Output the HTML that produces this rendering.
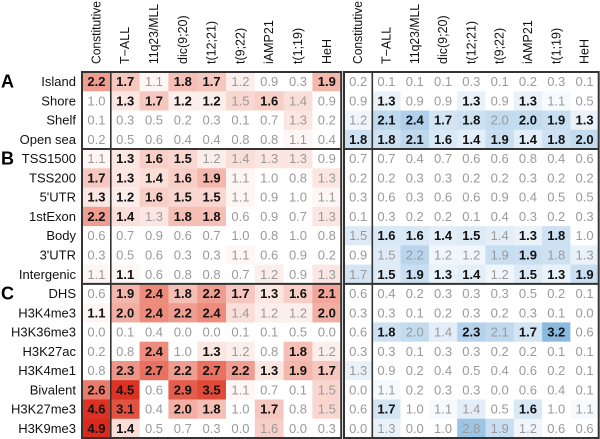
<!DOCTYPE html>
<html><head><meta charset="utf-8">
<style>
body{margin:0;background:#fff;}
svg{display:block;font-family:"Liberation Sans",sans-serif;}
</style></head>
<body>
<svg id="chart" width="600" height="439" viewBox="0 0 600 439" xmlns="http://www.w3.org/2000/svg"></svg>
<script>
const columns = ["Constitutive","T\u2212ALL","11q23/MLL","dic(9;20)","t(12;21)","t(9;22)","iAMP21","t(1;19)","HeH"];
const rows = ["Island","Shore","Shelf","Open sea","TSS1500","TSS200","5'UTR","1stExon","Body","3'UTR","Intergenic","DHS","H3K4me3","H3K36me3","H3K27ac","H3K4me1","Bivalent","H3K27me3","H3K9me3"];
const groupLabels = ["A","B","C"];
const groupStarts = [0,4,11];
const leftValues = [
[2.2,1.7,1.1,1.8,1.7,1.2,0.9,0.3,1.9],
[1.0,1.3,1.7,1.2,1.2,1.5,1.6,1.4,0.9],
[0.1,0.3,0.5,0.2,0.3,0.1,0.7,1.3,0.2],
[0.2,0.5,0.6,0.4,0.4,0.8,0.8,1.1,0.4],
[1.1,1.3,1.6,1.5,1.2,1.4,1.3,1.3,0.9],
[1.7,1.3,1.4,1.6,1.9,1.1,1.0,0.8,1.3],
[1.3,1.2,1.6,1.5,1.5,1.1,0.9,1.0,1.1],
[2.2,1.4,1.3,1.8,1.8,0.6,0.9,0.7,1.3],
[0.6,0.7,0.9,0.6,0.7,1.0,0.8,1.0,0.8],
[0.3,0.5,0.6,0.3,0.3,1.1,0.6,0.9,0.2],
[1.1,1.1,0.6,0.8,0.8,0.7,1.2,0.9,1.3],
[0.6,1.9,2.4,1.8,2.2,1.7,1.3,1.6,2.1],
[1.1,2.0,2.4,2.2,2.4,1.4,1.2,1.2,2.0],
[0.0,0.1,0.4,0.0,0.0,0.1,0.1,0.5,0.0],
[0.2,0.8,2.4,1.0,1.3,1.2,0.8,1.8,1.2],
[0.8,2.3,2.7,2.2,2.7,2.2,1.3,1.9,1.7],
[2.6,4.5,0.6,2.9,3.5,1.1,0.7,0.1,1.5],
[4.6,3.1,0.4,2.0,1.8,1.0,1.7,0.8,1.5],
[4.9,1.4,0.5,0.7,0.3,0.0,1.6,0.0,0.3]];
const leftBold = [
[1,1,0,1,1,0,0,0,1],[0,1,1,1,1,0,1,0,0],[0,0,0,0,0,0,0,0,0],[0,0,0,0,0,0,0,0,0],
[0,1,1,1,0,0,0,0,0],[1,1,1,1,1,0,0,0,0],[1,1,1,1,1,0,0,0,0],[1,1,0,1,1,0,0,0,0],
[0,0,0,0,0,0,0,0,0],[0,0,0,0,0,0,0,0,0],[0,1,0,0,0,0,0,0,0],
[0,1,1,1,1,1,1,1,1],[1,1,1,1,1,0,0,0,1],[0,0,0,0,0,0,0,0,0],[0,0,1,0,1,0,0,1,0],
[0,1,1,1,1,1,1,1,1],[1,1,0,1,1,0,0,0,0],[1,1,0,1,1,0,1,0,0],[1,1,0,0,0,0,0,0,0]];
const rightValues = [
[0.2,0.1,0.1,0.1,0.3,0.1,0.2,0.3,0.1],
[0.9,1.3,0.9,0.9,1.3,0.9,1.3,1.1,0.5],
[1.2,2.1,2.4,1.7,1.8,2.0,2.0,1.9,1.3],
[1.8,1.8,2.1,1.6,1.4,1.9,1.4,1.8,2.0],
[0.7,0.7,0.4,0.7,0.6,0.6,0.8,0.4,0.6],
[0.2,0.2,0.3,0.3,0.2,0.2,0.3,0.2,0.2],
[0.3,0.6,0.3,0.6,0.6,0.9,0.4,0.5,0.5],
[0.1,0.3,0.2,0.2,0.1,0.4,0.3,0.2,0.3],
[1.5,1.6,1.6,1.4,1.5,1.4,1.3,1.8,1.0],
[0.9,1.5,2.2,1.2,1.2,1.9,1.9,1.8,1.3],
[1.7,1.5,1.9,1.3,1.4,1.2,1.5,1.3,1.9],
[0.6,0.4,0.2,0.3,0.3,0.3,0.5,0.2,0.1],
[0.3,0.3,0.1,0.2,0.3,0.2,0.3,0.1,0.0],
[0.6,1.8,2.0,1.4,2.3,2.1,1.7,3.2,0.6],
[0.3,0.3,0.1,0.3,0.3,0.2,0.2,0.1,0.1],
[1.3,0.9,0.2,0.4,0.5,0.4,0.6,0.2,0.1],
[0.0,1.1,0.2,0.3,0.3,0.0,0.6,0.4,0.1],
[0.6,1.7,1.0,1.1,1.4,0.5,1.6,1.0,1.1],
[0.0,1.3,0.0,1.0,2.8,1.9,1.2,0.6,0.6]];
const rightBold = [
[0,0,0,0,0,0,0,0,0],[0,1,0,0,1,0,1,0,0],[0,1,1,1,1,0,1,1,1],[1,1,1,1,1,1,1,1,1],
[0,0,0,0,0,0,0,0,0],[0,0,0,0,0,0,0,0,0],[0,0,0,0,0,0,0,0,0],[0,0,0,0,0,0,0,0,0],
[0,1,1,1,1,0,1,1,0],[0,0,0,0,0,0,1,0,0],[0,1,1,1,1,0,1,1,1],
[0,0,0,0,0,0,0,0,0],[0,0,0,0,0,0,0,0,0],[0,1,0,0,1,0,1,1,0],[0,0,0,0,0,0,0,0,0],
[0,0,0,0,0,0,0,0,0],[0,0,0,0,0,0,0,0,0],[0,1,0,0,0,0,1,0,0],[0,0,0,0,0,0,0,0,0]];

const NS="http://www.w3.org/2000/svg";
const svg=document.getElementById('chart');
const top0=72, rowH=(439-72-1)/rows.length;
const panels=[{x0:82,cw:28.8,vals:leftValues,bold:leftBold,col:[218,42,28],name:'left'},
              {x0:344,cw:28.3,vals:rightValues,bold:rightBold,col:[60,138,204],name:'right'}];
function yOf(i){return top0+i*rowH;}
function mk(tag,attrs,parent){const e=document.createElementNS(NS,tag);for(const k in attrs)e.setAttribute(k,attrs[k]);(parent||svg).appendChild(e);return e;}
function fill(v,c,warm){let t=Math.max(0,Math.min(1,(v-1)/4));t=Math.pow(t,0.85);
  if(warm){const base=[Math.round(238-20*t),Math.round(140-100*t),Math.round(115-87*t)];const k=Math.min(1,t*1.8);
    return `rgb(${Math.round(255+(base[0]-255)*k)},${Math.round(255+(base[1]-255)*k)},${Math.round(255+(base[2]-255)*k)})`;}
  const r=Math.round(255+(c[0]-255)*t),g=Math.round(255+(c[1]-255)*t),b=Math.round(255+(c[2]-255)*t);return `rgb(${r},${g},${b})`;}

rows.forEach((r,i)=>{
  const t=mk('text',{x:76,y:yOf(i)+rowH/2+4.5,'text-anchor':'end','font-size':13,fill:'#111'});
  t.textContent=r;
  
  
});
groupLabels.forEach((g,k)=>{
  const t=mk('text',{x:1,y:yOf(groupStarts[k])+rowH/2+6,'font-size':18,'font-weight':'bold',fill:'#000'});
  t.textContent=g;
  
  
});
panels.forEach(p=>{
  const gp=mk('g',{});
  
  
  columns.forEach((c,j)=>{
    const cx=p.x0+j*p.cw+p.cw/2+4;
    const t=mk('text',{transform:`translate(${cx},64) rotate(-90)`,'font-size':12.5,fill:'#111'},gp);
    t.textContent=c;
    if(c==='Constitutive'||c==='11q23/MLL'){t.setAttribute('textLength',c==='Constitutive'?63:60);t.setAttribute('lengthAdjust','spacingAndGlyphs');}
    
    
  });
  p.vals.forEach((row,i)=>row.forEach((v,j)=>{
    const x=p.x0+j*p.cw,y=yOf(i);
    const rc=mk('rect',{x:x,y:y,width:p.cw+0.3,height:rowH+0.3,fill:fill(v,p.col,p.name==='left')},gp);
    
    
    const b=p.bold[i][j];
    const t=mk('text',{x:x+p.cw/2,y:y+rowH/2+4.5,'text-anchor':'middle','font-size':13,'font-weight':b?'bold':'normal',fill:b?'#111':'#9a9a9a'},gp);
    t.textContent=v.toFixed(1);
    
    
  }));
  const x1=p.x0+columns.length*p.cw, yb=yOf(rows.length);
  mk('rect',{x:p.x0,y:top0,width:x1-p.x0,height:yb-top0,fill:'none',stroke:'#333','stroke-width':2},gp);
  mk('line',{x1:p.x0+p.cw,x2:p.x0+p.cw,y1:top0,y2:yb,stroke:'#333','stroke-width':1.6},gp);
  groupStarts.slice(1).forEach(s=>mk('line',{x1:p.x0,x2:x1,y1:yOf(s),y2:yOf(s),stroke:'#333','stroke-width':2},gp));
});
</script>
</body></html>
